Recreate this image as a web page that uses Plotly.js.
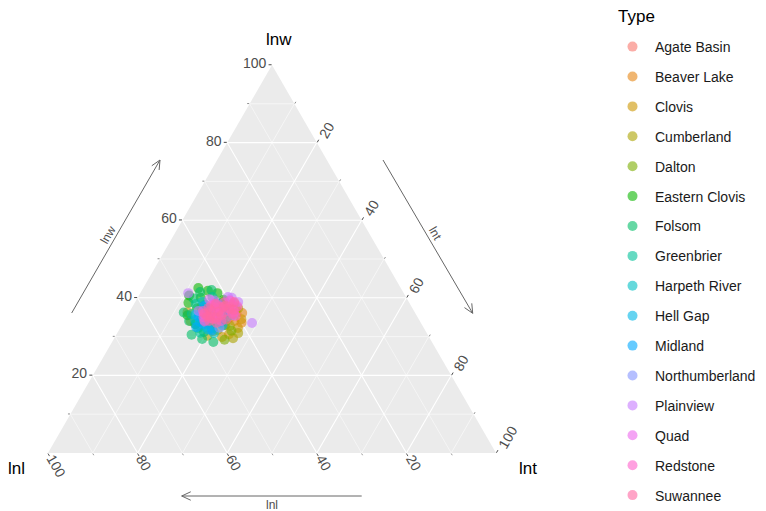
<!DOCTYPE html>
<html>
<head>
<meta charset="utf-8">
<script src="https://cdn.plot.ly/plotly-3.0.1.min.js"></script>
<style>
  html, body { margin: 0; padding: 0; background: #ffffff; }
  #chart { width: 766px; height: 511px; }
</style>
</head>
<body>
<div id="chart"></div>
<script>
// Projectile point shape composition: lnw (top), lnl (left), lnt (right), in percent.
const types = ["Agate Basin", "Beaver Lake", "Clovis", "Cumberland", "Dalton",
  "Eastern Clovis", "Folsom", "Greenbrier", "Harpeth River", "Hell Gap", "Midland",
  "Northumberland", "Plainview", "Quad", "Redstone", "Suwannee"];

const colors = ["#F8766D", "#E68613", "#CD9600", "#ABA300", "#7CAE00", "#0CB702",
  "#00BE67", "#00C19A", "#00BFC4", "#00B8E7", "#00A9FF", "#8494FF", "#C77CFF",
  "#ED68ED", "#FF61CC", "#FF68A1"];

const lnwAgateBasin = [36.5, 35.2, 37.8, 34.1, 38.6, 33.4, 36.0, 35.7, 37.2, 34.8];
const lnlAgateBasin = [44.0, 43.0, 44.6, 45.5, 39.1, 47.7, 39.9, 47.5, 41.9, 42.0];
const lntAgateBasin = [19.5, 21.8, 17.6, 20.4, 22.3, 18.9, 24.1, 16.8, 20.9, 23.2];

const lnwBeaverLake = [36.1, 34.0, 38.2, 32.9, 35.4, 37.0, 33.6, 39.1];
const lnlBeaverLake = [38.6, 41.4, 40.1, 44.3, 46.4, 39.5, 40.0, 41.1];
const lntBeaverLake = [25.3, 24.6, 21.7, 22.8, 18.2, 23.5, 26.4, 19.8];

const lnwClovis = [36.3, 32.2, 29.9, 34.5, 37.6, 31.4, 35.0, 33.1, 38.8, 30.6, 36.9, 34.0];
const lnlClovis = [50.7, 41.5, 46.2, 39.6, 47.0, 47.4, 47.7, 47.3, 43.1, 44.3, 40.5, 51.2];
const lntClovis = [13.0, 26.3, 23.9, 25.9, 15.4, 21.2, 17.3, 19.6, 18.1, 25.1, 22.6, 14.8];

const lnwCumberland = [30.9, 29.6, 32.8, 35.3, 31.7, 33.9, 37.3, 30.2];
const lnlCumberland = [42.1, 43.9, 43.0, 45.6, 46.3, 48.9, 38.9, 49.3];
const lntCumberland = [27.0, 26.5, 24.2, 19.1, 22.0, 17.2, 23.8, 20.5];

const lnwDalton = [31.5, 29.2, 34.6, 36.7, 33.0, 38.0];
const lnlDalton = [43.3, 46.0, 45.4, 46.8, 43.9, 42.7];
const lntDalton = [25.2, 24.8, 20.0, 16.5, 23.1, 19.3];

const lnwEasternClovis = [42.5, 41.2, 40.0, 38.7, 39.5, 37.3, 41.8, 35.5, 33.2, 40.6];
const lnlEasternClovis = [45.2, 41.6, 45.9, 49.3, 41.0, 48.1, 43.4, 51.1, 50.5, 48.2];
const lntEasternClovis = [12.3, 17.2, 14.1, 12.0, 19.5, 14.6, 14.8, 13.4, 16.3, 11.2];

const lnwFolsom = [29.4, 28.6, 32.2, 30.5, 41.5, 39.8, 34.0, 36.2, 38.2, 31.2, 42.0, 33.5];
const lnlFolsom = [50.9, 48.8, 50.4, 52.7, 45.3, 47.6, 51.5, 51.6, 45.8, 49.6, 42.5, 44.7];
const lntFolsom = [19.7, 22.6, 17.4, 16.8, 13.2, 12.6, 14.5, 12.2, 16.0, 19.2, 15.5, 21.8];

const lnwGreenbrier = [35.8, 33.3, 31.0, 38.4, 36.7, 34.4, 32.1, 40.2];
const lnlGreenbrier = [50.0, 50.3, 50.5, 47.8, 42.3, 47.6, 47.3, 43.2];
const lntGreenbrier = [14.2, 16.4, 18.5, 13.8, 21.0, 18.0, 20.6, 16.6];

const lnwHarpethRiver = [34.3, 32.5, 36.1, 30.9, 37.7, 35.0, 33.7, 39.0];
const lnlHarpethRiver = [50.0, 48.6, 47.7, 47.5, 44.4, 42.6, 46.2, 46.0];
const lntHarpethRiver = [15.7, 18.9, 16.2, 21.6, 17.9, 22.4, 20.1, 15.0];

const lnwHellGap = [33.8, 35.6, 31.8, 37.1, 34.9, 36.4, 32.9, 38.5];
const lnlHellGap = [49.2, 49.3, 48.3, 46.3, 45.6, 41.9, 44.6, 42.8];
const lntHellGap = [17.0, 15.1, 19.9, 16.6, 19.5, 21.7, 22.5, 18.7];

const lnwMidland = [35.1, 33.2, 36.8, 31.6, 34.5, 37.9, 32.4];
const lnlMidland = [48.8, 48.6, 44.6, 47.6, 44.2, 46.2, 50.7];
const lntMidland = [16.1, 18.2, 18.6, 20.8, 21.3, 15.9, 16.9];

const lnwNorthumberland = [36.0, 34.2, 38.1, 32.3, 35.5];
const lnlNorthumberland = [43.8, 48.0, 42.9, 45.6, 40.9];
const lntNorthumberland = [20.2, 17.8, 19.0, 22.1, 23.6];

const lnwPlainview = [41.2, 40.2, 40.0, 33.5, 39.3, 36.6, 38.9];
const lnlPlainview = [48.1, 39.7, 39.0, 37.7, 43.2, 48.1, 38.1];
const lntPlainview = [10.7, 20.1, 21.0, 28.8, 17.5, 15.3, 23.0];

const lnwQuad = [39.6, 37.5, 35.8, 38.3, 36.4, 34.6];
const lnlQuad = [44.2, 44.0, 47.3, 39.7, 40.3, 45.8];
const lntQuad = [16.2, 18.5, 16.9, 22.0, 23.3, 19.6];

const lnwRedstone = [36.9, 35.6, 38.0, 34.7, 37.4, 36.2, 35.0, 38.8, 37.8, 34.0, 36.6, 35.3, 39.3, 33.9,
  37.0, 35.9, 36.3, 38.4, 34.4, 37.6];
const lnlRedstone = [44.5, 44.1, 44.6, 46.2, 41.1, 40.9, 47.8, 41.3, 38.8, 44.3, 47.1, 40.5, 39.7, 48.1,
  43.0, 45.8, 42.5, 43.6, 45.1, 42.8];
const lntRedstone = [18.6, 20.3, 17.4, 19.1, 21.5, 22.9, 17.2, 19.9, 23.4, 21.7, 16.3, 24.2, 21.0, 18.0,
  20.0, 18.3, 21.2, 18.0, 20.5, 19.6];

const lnwSuwannee = [36.4, 37.1, 35.2, 38.4, 34.4, 36.0, 37.7, 35.8, 34.9, 38.9, 36.8, 33.6,
  35.5, 37.4, 36.9, 34.0, 38.0, 35.1];
const lnlSuwannee = [43.8, 41.0, 46.2, 43.3, 43.0, 47.1, 41.9, 40.8, 44.9, 39.0, 45.3, 45.6,
  43.5, 45.5, 40.1, 47.0, 41.4, 46.9];
const lntSuwannee = [19.8, 21.9, 18.6, 18.3, 22.6, 16.9, 20.4, 23.4, 20.2, 22.1, 17.9, 20.8,
  21.0, 17.1, 23.0, 19.0, 20.6, 18.0];

const lnwByType = [lnwAgateBasin, lnwBeaverLake, lnwClovis, lnwCumberland, lnwDalton,
  lnwEasternClovis, lnwFolsom, lnwGreenbrier, lnwHarpethRiver, lnwHellGap, lnwMidland,
  lnwNorthumberland, lnwPlainview, lnwQuad, lnwRedstone, lnwSuwannee];
const lnlByType = [lnlAgateBasin, lnlBeaverLake, lnlClovis, lnlCumberland, lnlDalton,
  lnlEasternClovis, lnlFolsom, lnlGreenbrier, lnlHarpethRiver, lnlHellGap, lnlMidland,
  lnlNorthumberland, lnlPlainview, lnlQuad, lnlRedstone, lnlSuwannee];
const lntByType = [lntAgateBasin, lntBeaverLake, lntClovis, lntCumberland, lntDalton,
  lntEasternClovis, lntFolsom, lntGreenbrier, lntHarpethRiver, lntHellGap, lntMidland,
  lntNorthumberland, lntPlainview, lntQuad, lntRedstone, lntSuwannee];

const majorTicks = [20, 40, 60, 80, 100];
const minorTicks = [10, 30, 50, 70, 90];

function hexToRgba(hex, alpha) {
  const n = parseInt(hex.slice(1), 16);
  return `rgba(${(n >> 16) & 255},${(n >> 8) & 255},${n & 255},${alpha})`;
}

const traces = types.map((name, i) => ({
  type: "scatterternary",
  mode: "markers",
  subplot: "ternary2",
  name: name,
  legendgroup: name,
  a: lnwByType[i],
  b: lnlByType[i],
  c: lntByType[i],
  marker: { size: 10, color: hexToRgba(colors[i], 0.6), line: { width: 0 } },
  hoverinfo: "name+a+b+c"
}));

// Page is laid out with zero margins, so paper units map directly to pixels.
const W = 766, H = 511;
const px = x => x / W;
const py = y => 1 - y / H;

// Triangle corners in pixels (bottom-left, bottom-right, top).
const TRI = { left: 47, right: 497, bottom: 453, top: 65 };

const FONT = "Liberation Sans, Arial, sans-serif";
const LINE_GRAY = "#666666";
const TICK_GRAY = "#4D4D4D";

// Draws an open-headed arrow from (x0,y0) to (x1,y1), given in pixels.
function arrowShapes(x0, y0, x1, y1) {
  const dx = x1 - x0, dy = y1 - y0;
  const len = Math.hypot(dx, dy);
  const bx = -dx / len, by = -dy / len;
  const head = 10, ang = 25 * Math.PI / 180;
  const c = Math.cos(ang), s = Math.sin(ang);
  const h1 = [x1 + head * (bx * c - by * s), y1 + head * (bx * s + by * c)];
  const h2 = [x1 + head * (bx * c + by * s), y1 + head * (-bx * s + by * c)];
  const line = { color: LINE_GRAY, width: 1 };
  return [
    { type: "line", xref: "paper", yref: "paper", x0: px(x0), y0: py(y0), x1: px(x1), y1: py(y1), line },
    { type: "line", xref: "paper", yref: "paper", x0: px(h1[0]), y0: py(h1[1]), x1: px(x1), y1: py(y1), line },
    { type: "line", xref: "paper", yref: "paper", x0: px(h2[0]), y0: py(h2[1]), x1: px(x1), y1: py(y1), line }
  ];
}

const shapes = [
  ...arrowShapes(71.7, 313, 160, 160),
  ...arrowShapes(383, 160, 472.7, 313.3),
  ...arrowShapes(361.7, 496, 181.7, 496)
];

const textAnn = (text, x, y, size, color, angle, xanchor) => ({
  text, x: px(x), y: py(y), xref: "paper", yref: "paper", showarrow: false,
  textangle: angle || 0, xanchor: xanchor || "center", yanchor: "middle",
  font: { family: FONT, size, color }
});

// lnl tick labels along the bottom edge, turned 60° and starting at each tick.
const lnlTickLabels = majorTicks.map(v => {
  const label = String(v);
  const xt = TRI.right - (TRI.right - TRI.left) * v / 100;
  const half = label.length * 4;
  const cos = Math.cos(Math.PI / 3), sin = Math.sin(Math.PI / 3);
  return textAnn(label, xt + 3 + half * cos, TRI.bottom + 3 + half * sin, 14, TICK_GRAY, 60);
});

const annotations = [
  // arrow captions along the three sides
  textAnn("lnw", 108, 235, 12, TICK_GRAY, -60),
  textAnn("lnt", 435, 233, 12, TICK_GRAY, 60),
  textAnn("lnl", 271.7, 505, 12, TICK_GRAY, 0),
  // vertex titles
  textAnn("lnw", 279, 39, 17, "#000000", 0),
  textAnn("lnl", 16, 468, 17, "#000000", 0),
  textAnn("lnt", 528, 468, 17, "#000000", 0),
  // legend heading
  textAnn("Type", 616, 17, 17, "#000000", 0, "left"),
  ...lnlTickLabels
];

const domain = { x: [px(TRI.left), px(TRI.right)], y: [py(TRI.bottom), py(TRI.top)] };

function minorAxis() {
  return {
    title: { text: "" },
    tickmode: "array", tickvals: minorTicks, showticklabels: false,
    ticks: "outside", ticklen: 2, tickcolor: "#555555", tickwidth: 0.6,
    showgrid: true, gridcolor: "#ffffff", gridwidth: 0.5,
    showline: false, layer: "below traces"
  };
}

function majorAxis(angle, showLabels) {
  return {
    title: { text: "" },
    tickmode: "array", tickvals: majorTicks, ticktext: majorTicks.map(String),
    tickangle: angle, showticklabels: showLabels,
    tickfont: { family: FONT, size: 14, color: TICK_GRAY },
    ticks: "outside", ticklen: 3, tickcolor: "#333333", tickwidth: 0.8,
    showgrid: true, gridcolor: "#ffffff", gridwidth: 1.1,
    showline: false, layer: "below traces"
  };
}

const layout = {
  width: W, height: H,
  margin: { l: 0, r: 0, t: 0, b: 0 },
  paper_bgcolor: "#ffffff",
  font: { family: FONT },
  ternary: {
    domain: domain, sum: 100, bgcolor: "#EBEBEB",
    aaxis: minorAxis(), baxis: minorAxis(), caxis: minorAxis()
  },
  ternary2: {
    domain: domain, sum: 100, bgcolor: "rgba(0,0,0,0)",
    aaxis: majorAxis(0, true),
    baxis: majorAxis(60, false),
    caxis: majorAxis(-60, true)
  },
  showlegend: true,
  legend: {
    x: px(610), y: py(39.5), xanchor: "left", yanchor: "top",
    font: { family: FONT, size: 14, color: "#1A1A1A" },
    tracegroupgap: 8.7, itemsizing: "trace", itemwidth: 35,
    bgcolor: "rgba(0,0,0,0)"
  },
  shapes: shapes,
  annotations: annotations
};

// The lower ternary carries only the minor grid; an empty trace makes it render.
const baseTrace = {
  type: "scatterternary", subplot: "ternary", mode: "markers",
  a: [], b: [], c: [], showlegend: false, hoverinfo: "skip"
};

Plotly.newPlot("chart", [baseTrace, ...traces], layout, { displayModeBar: false, staticPlot: true });
</script>
</body>
</html>
